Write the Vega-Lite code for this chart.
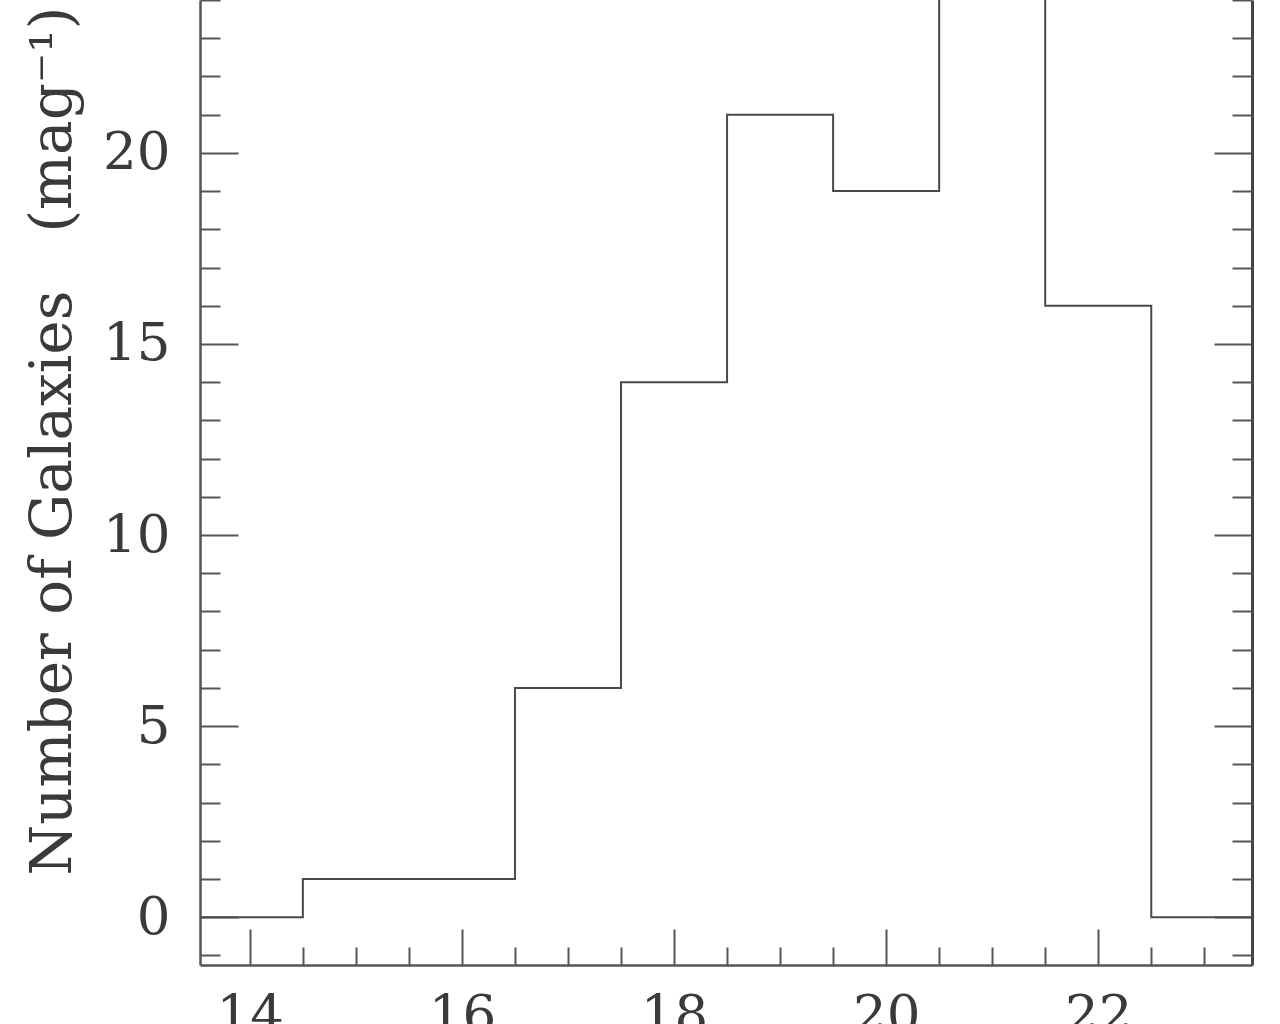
{
  "$schema": "https://vega.github.io/schema/vega-lite/v6.json",
  "width": 1052,
  "height": 965,
  "autosize": {"type": "none"},
  "padding": {"left": 200, "top": 0, "right": 28, "bottom": 59},
  "background": "white",
  "config": {
    "view": {"stroke": null},
    "axis": {
      "labelFont": "DejaVu Serif",
      "titleFont": "DejaVu Serif",
      "labelFontSize": 53,
      "titleFontSize": 58,
      "labelFontWeight": "normal",
      "titleFontWeight": "normal",
      "labelColor": "#3a3a3a",
      "titleColor": "#3a3a3a",
      "domainColor": "#555555",
      "tickColor": "#555555",
      "grid": false,
      "labelFlush": false,
      "labelOverlap": false
    }
  },
  "data": {
    "values": [
      {"mag": 13.5, "n": 0},
      {"mag": 14.5, "n": 1},
      {"mag": 15.5, "n": 1},
      {"mag": 16.5, "n": 6},
      {"mag": 17.5, "n": 14},
      {"mag": 18.5, "n": 21},
      {"mag": 19.5, "n": 19},
      {"mag": 20.5, "n": 28},
      {"mag": 21.5, "n": 16},
      {"mag": 22.5, "n": 0},
      {"mag": 23.5, "n": 0}
    ]
  },
  "layer": [
    {
      "mark": {"type": "line", "interpolate": "step-after", "clip": true, "color": "#4a4a4a", "strokeWidth": 2},
      "encoding": {
        "x": {
          "field": "mag", "type": "quantitative",
          "scale": {"domain": [13.53, 23.45], "nice": false, "zero": false},
          "axis": {"orient": "bottom", "values": [14, 16, 18, 20, 22], "ticks": false, "labelPadding": 24, "title": null, "domainWidth": 2.5}
        },
        "y": {
          "field": "n", "type": "quantitative",
          "scale": {"domain": [-1.25, 24], "nice": false, "zero": false},
          "axis": {
            "orient": "left", "values": [0, 5, 10, 15, 20], "ticks": false, "labelPadding": 30, "domainWidth": 2.5,
            "title": "Number of Galaxies\u2002\u2002(mag⁻¹)",
            "titleAngle": 270, "titleAlign": "left", "titleBaseline": "middle",
            "titleX": -147, "titleY": 875
          }
        }
      }
    },
    {
      "mark": {"type": "point", "opacity": 0},
      "encoding": {
        "x": {
          "field": "mag", "type": "quantitative",
          "scale": {"domain": [13.53, 23.45], "nice": false, "zero": false},
          "axis": {"orient": "bottom", "values": [14, 16, 18, 20, 22], "labels": false, "domain": false, "tickSize": -36, "tickWidth": 2, "title": null}
        },
        "y": {
          "field": "n", "type": "quantitative",
          "scale": {"domain": [-1.25, 24], "nice": false, "zero": false},
          "axis": {"orient": "left", "values": [0, 5, 10, 15, 20], "labels": false, "domain": false, "tickSize": -38, "tickWidth": 2, "title": null}
        }
      }
    },
    {
      "mark": {"type": "point", "opacity": 0},
      "encoding": {
        "x": {
          "field": "mag", "type": "quantitative",
          "scale": {"domain": [13.53, 23.45], "nice": false, "zero": false},
          "axis": {"orient": "bottom", "values": [14.5, 15, 15.5, 16.5, 17, 17.5, 18.5, 19, 19.5, 20.5, 21, 21.5, 22.5, 23], "labels": false, "domain": false, "tickSize": -18, "tickWidth": 2, "title": null}
        },
        "y": {
          "field": "n", "type": "quantitative",
          "scale": {"domain": [-1.25, 24], "nice": false, "zero": false},
          "axis": {"orient": "left", "values": [-1, 1, 2, 3, 4, 6, 7, 8, 9, 11, 12, 13, 14, 16, 17, 18, 19, 21, 22, 23, 24], "labels": false, "domain": false, "tickSize": -20, "tickWidth": 2, "title": null}
        }
      }
    },
    {
      "mark": {"type": "point", "opacity": 0},
      "encoding": {
        "x": {
          "field": "mag", "type": "quantitative",
          "scale": {"domain": [13.53, 23.45], "nice": false, "zero": false},
          "axis": null
        },
        "y": {
          "field": "n", "type": "quantitative",
          "scale": {"domain": [-1.25, 24], "nice": false, "zero": false},
          "axis": {"orient": "right", "values": [0, 5, 10, 15, 20], "labels": false, "domain": true, "domainWidth": 3, "domainColor": "#444444", "tickSize": -38, "tickWidth": 2, "title": null}
        }
      }
    },
    {
      "mark": {"type": "point", "opacity": 0},
      "encoding": {
        "x": {
          "field": "mag", "type": "quantitative",
          "scale": {"domain": [13.53, 23.45], "nice": false, "zero": false},
          "axis": null
        },
        "y": {
          "field": "n", "type": "quantitative",
          "scale": {"domain": [-1.25, 24], "nice": false, "zero": false},
          "axis": {"orient": "right", "values": [-1, 1, 2, 3, 4, 6, 7, 8, 9, 11, 12, 13, 14, 16, 17, 18, 19, 21, 22, 23, 24], "labels": false, "domain": false, "tickSize": -20, "tickWidth": 2, "title": null}
        }
      }
    }
  ],
  "resolve": {"axis": {"x": "independent", "y": "independent"}}
}
